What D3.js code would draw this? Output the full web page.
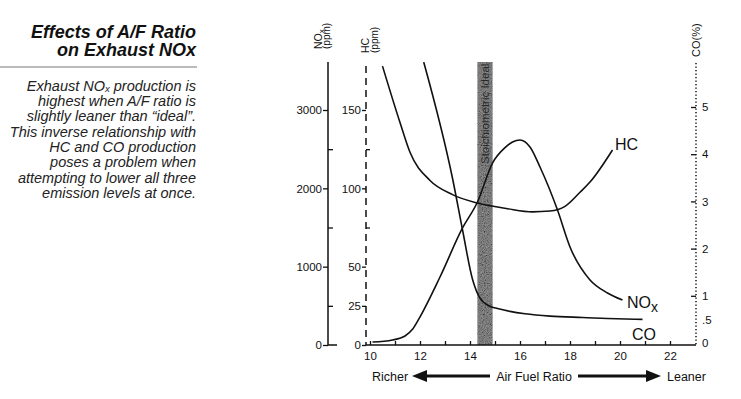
<!DOCTYPE html>
<html>
<head>
<meta charset="utf-8">
<script src="https://cdn.jsdelivr.net/npm/d3@7"></script>
<style>
  body { margin: 0; background: #fff; }
  svg text { font-family: "Liberation Sans", Arial, sans-serif; fill: #111; }
  .axis path.domain { display: none; }
  .axis line { stroke: #111; stroke-width: 1.3; }
  .axis text { font-size: 11.5px; }
  .curve { fill: none; stroke: #111; stroke-width: 1.6; }
</style>
</head>
<body>
<div id="chart"></div>
<script>

/* DATA */
const afrTicks = [10, 11, 12, 13, 14, 15, 16, 17, 18, 19, 20, 21, 22];
const noxTicks = [0, 1000, 2000, 3000];
const noxMinor = [500, 1500, 2500];
const hcTicks = [0, 25, 50, 100, 150];
const hcMinor = [75, 125];
const coTicks = [1, 2, 3, 4, 5];
const coLabelValues = [0, 0.5, 1, 2, 3, 4, 5];
const coLabels = ["0", ".5", "1", "2", "3", "4", "5"];
const bandRange = [14.3, 14.9];

const noxAfr = [10.1, 10.9, 11.4, 11.7, 11.95, 12.8, 13.7, 14.3, 14.9, 15.4, 15.7, 16.0, 16.4, 16.8, 17.5, 18.0, 18.8, 19.5, 20.1];
const noxPpm = [38, 64, 115, 200, 330, 868, 1494, 1826, 2323, 2520, 2591, 2617, 2528, 2272, 1723, 1251, 830, 664, 574];

const hcAfr = [10.5, 11.2, 11.6, 12.4, 13.3, 14.3, 15.5, 16.5, 17.2, 17.8, 18.4, 18.8, 19.7];
const hcPpm = [178, 142, 123, 105, 96, 90.6, 87, 85, 85.5, 88.5, 97.5, 104, 124.5];

const coAfr = [12.15, 13.3, 13.7, 14.1, 14.4, 14.8, 15.1, 15.6, 16.2, 17.2, 18.5, 19.5, 20.9];
const coPct = [5.95, 3.49, 2.4, 1.35, 0.95, 0.78, 0.73, 0.67, 0.62, 0.57, 0.54, 0.52, 0.5];

const paragraph = [
  "highest when A/F ratio is",
  "slightly leaner than \u201cideal\u201d.",
  "This inverse relationship with",
  "HC and CO production",
  "poses a problem when",
  "attempting to lower all three",
  "emission levels at once."
];

/* SVG */
const width = 741;
const height = 399;

const svg = d3.select("#chart")
    .append("svg")
    .attr("width", width)
    .attr("height", height);

// grain for the printed band
const grain = svg.append("defs").append("filter")
    .attr("id", "grain")
    .attr("x", 0).attr("y", 0).attr("width", 1).attr("height", 1);
grain.append("feTurbulence")
    .attr("type", "fractalNoise")
    .attr("baseFrequency", 0.9)
    .attr("numOctaves", 2)
    .attr("seed", 4)
    .attr("result", "t");
grain.append("feColorMatrix")
    .attr("in", "t")
    .attr("type", "matrix")
    .attr("values", "1.4 0 0 0 -0.3  1.4 0 0 0 -0.3  1.4 0 0 0 -0.3  0 0 0 0 1")
    .attr("result", "g");
grain.append("feComposite")
    .attr("in", "g")
    .attr("in2", "SourceGraphic")
    .attr("operator", "in");

/* SCALES */
const x = d3.scaleLinear().domain([10, 23]).range([370, 695]);
const yNox = d3.scaleLinear().domain([0, 3000]).range([345, 110]);
const yHc = d3.scaleLinear().domain([0, 150]).range([345, 110]);
const yCo = d3.scaleLinear().domain([0, 5]).range([343, 107]);

/* LEFT TEXT */
const title = svg.append("g")
    .attr("font-weight", "bold")
    .attr("font-style", "italic")
    .attr("font-size", "18px")
    .attr("text-anchor", "end");
title.append("text").attr("x", 196).attr("y", 38).text("Effects of A/F Ratio");
title.append("text").attr("x", 196).attr("y", 56).text("on Exhaust NOx");

svg.append("line")
    .attr("x1", 0).attr("x2", 197)
    .attr("y1", 67).attr("y2", 67)
    .attr("stroke", "#777").attr("stroke-width", 1);

const para = svg.append("g")
    .attr("font-style", "italic")
    .attr("font-size", "14.5px")
    .attr("text-anchor", "end");

const first = para.append("text").attr("x", 196).attr("y", 90.7).style("fill", "#222");
first.append("tspan").text("Exhaust NO");
first.append("tspan").attr("font-size", "9.5px").attr("dy", 1.5).text("x");
first.append("tspan").attr("dy", -1.5).text(" production is");

paragraph.forEach(function(line, i) {
    para.append("text")
        .attr("x", 196)
        .attr("y", 90.7 + (i + 1) * 15.3)
        .style("fill", "#222")
        .text(line);
});

/* STOICHIOMETRIC BAND */
const bandX = x(bandRange[0]);
const bandW = x(bandRange[1]) - x(bandRange[0]);

svg.append("rect")
    .attr("x", bandX).attr("y", 62)
    .attr("width", bandW).attr("height", 345 - 62)
    .attr("fill", "#5a5a5a");

svg.append("rect")
    .attr("x", bandX).attr("y", 62)
    .attr("width", bandW).attr("height", 345 - 62)
    .attr("fill", "#fff")
    .attr("filter", "url(#grain)")
    .attr("opacity", 0.4);

svg.append("text")
    .attr("transform", `translate(${bandX + bandW / 2 + 4},164) rotate(-90)`)
    .attr("font-size", "11.5px")
    .style("fill", "#2a2a2a")
    .text("Stoichiometric Ideal");

/* AXIS LINES */
svg.append("path")
    .attr("d", "M328,62V345H337")
    .attr("fill", "none").attr("stroke", "#111").attr("stroke-width", 1.5);

svg.append("line")
    .attr("x1", 366).attr("x2", 366).attr("y1", 66).attr("y2", 345)
    .attr("stroke", "#111").attr("stroke-width", 1.5)
    .attr("stroke-dasharray", "7,5");

svg.append("line")
    .attr("x1", 366).attr("x2", 696).attr("y1", 345).attr("y2", 345)
    .attr("stroke", "#111").attr("stroke-width", 1.5);

svg.append("line")
    .attr("x1", 696).attr("x2", 696).attr("y1", 63).attr("y2", 345)
    .attr("stroke", "#111").attr("stroke-width", 1.5)
    .attr("stroke-dasharray", "1.3,2.2");

/* AXES */
svg.append("g").attr("class", "axis")
    .attr("transform", "translate(328,0)")
    .call(d3.axisLeft(yNox).tickValues(noxTicks).tickSize(5).tickPadding(1).tickFormat(d3.format("d")));

svg.append("g").attr("class", "axis")
    .attr("transform", "translate(328,0)")
    .call(d3.axisRight(yNox).tickValues(noxMinor).tickSize(5).tickFormat(""));

svg.append("g").attr("class", "axis")
    .attr("transform", "translate(366,0)")
    .call(d3.axisLeft(yHc).tickValues(hcTicks).tickSize(4).tickPadding(1).tickFormat(d3.format("d")));

svg.append("g").attr("class", "axis")
    .attr("transform", "translate(366,0)")
    .call(d3.axisRight(yHc).tickValues(hcMinor).tickSize(4).tickFormat(""));

svg.append("g").attr("class", "axis")
    .attr("transform", "translate(696,0)")
    .call(d3.axisLeft(yCo).tickValues(coTicks).tickSize(5).tickFormat(""));

svg.append("g").attr("class", "axis")
    .attr("transform", "translate(696,0)")
    .call(d3.axisRight(yCo).tickValues(coLabelValues).tickSize(0).tickPadding(6)
        .tickFormat(function(d, i) { return coLabels[i]; }));

svg.append("g").attr("class", "axis")
    .attr("transform", "translate(0,345)")
    .call(d3.axisBottom(x).tickValues(afrTicks).tickSizeInner(-4).tickSizeOuter(0).tickPadding(7)
        .tickFormat(function(d) { return d % 2 === 0 ? d : ""; }));

/* AXIS TITLES */
function vLabel(px, py, txt, size) {
    return svg.append("text")
        .attr("transform", `translate(${px},${py}) rotate(-90)`)
        .attr("font-size", size)
        .text(txt);
}
const noxTitle = vLabel(322, 49, "NO", "10.5px");
noxTitle.append("tspan").attr("font-size", "8px").attr("dy", 2).text("x");
vLabel(330, 49, "(ppm)", "10px");
vLabel(369, 53, "HC", "10.5px");
vLabel(378, 53, "(ppm)", "10px");
vLabel(700, 57, "CO(%)", "11px");

/* CURVES */
const line = d3.line().curve(d3.curveMonotoneX);

svg.append("path").attr("class", "curve")
    .attr("d", line(noxAfr.map(function(a, i) { return [x(a), yNox(noxPpm[i])]; })));

svg.append("path").attr("class", "curve")
    .attr("d", line(hcAfr.map(function(a, i) { return [x(a), yHc(hcPpm[i])]; })));

svg.append("path").attr("class", "curve")
    .attr("d", line(coAfr.map(function(a, i) { return [x(a), yCo(coPct[i])]; })));

/* CURVE LABELS */
svg.append("text").attr("x", 615).attr("y", 150).attr("font-size", "16px").text("HC");
const noxLab = svg.append("text").attr("x", 627).attr("y", 308).attr("font-size", "16px");
noxLab.append("tspan").text("NO");
noxLab.append("tspan").attr("font-size", "14px").attr("dy", 4).text("x");
svg.append("text").attr("x", 632).attr("y", 340).attr("font-size", "16px").text("CO");

/* BOTTOM ARROWS */
const bottom = svg.append("g").attr("font-size", "12.5px");
bottom.append("text").attr("x", 372).attr("y", 381).text("Richer");
bottom.append("text").attr("x", 534).attr("y", 381).attr("text-anchor", "middle").text("Air Fuel Ratio");
bottom.append("text").attr("x", 667).attr("y", 381).text("Leaner");

svg.append("line").attr("x1", 424).attr("x2", 490).attr("y1", 376).attr("y2", 376)
    .attr("stroke", "#111").attr("stroke-width", 3);
svg.append("path").attr("d", "M412,376L427,370L427,382Z").attr("fill", "#111");
svg.append("line").attr("x1", 578).attr("x2", 648).attr("y1", 376).attr("y2", 376)
    .attr("stroke", "#111").attr("stroke-width", 3);
svg.append("path").attr("d", "M661,376L646,370L646,382Z").attr("fill", "#111");

</script>
</body>
</html>
